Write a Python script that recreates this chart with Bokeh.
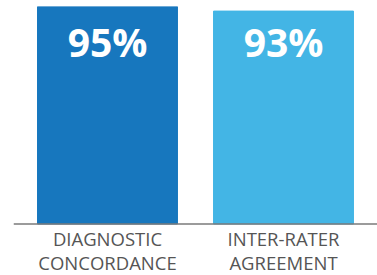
from bokeh.plotting import figure
from bokeh.models import ColumnDataSource, FactorRange, Range1d, Span
from bokeh.core.properties import value
from bokeh.embed import file_html
from bokeh.resources import INLINE

categories = ["DIAGNOSTIC\nCONCORDANCE", "INTER-RATER\nAGREEMENT"]
values = [95, 93]
value_labels = ["95%", "93%"]
colors = ["#1777BE", "#43B5E5"]

src = ColumnDataSource(dict(cat=categories, val=values, lab=value_labels, col=colors,
                            top=[max(values)] * len(values), base=[0] * len(values)))

p = figure(x_range=FactorRange(*categories, range_padding=0.034),
           y_range=Range1d(-22.5, max(values)),
           width=377, height=275, output_backend="svg", toolbar_location=None,
           min_border_left=13, min_border_right=0, min_border_top=6, min_border_bottom=0,
           outline_line_color=None, background_fill_color="white", border_fill_color="white")
p.x_range.range_padding_units = "percent"

p.vbar(x="cat", top="val", bottom=0, width=0.795, color="col", source=src)
p.text(x="cat", y="top", text="lab", source=src, y_offset=35,
       text_align="center", text_baseline="alphabetic",
       text_font=value("Open Sans"), text_font_style="bold", text_font_size="39px",
       text_color="white")
p.text(x="cat", y="base", text="cat", source=src, y_offset=2.5,
       text_align="center", text_baseline="top",
       text_font=value("Open Sans"), text_font_size="18.5px",
       text_color="#555555", text_line_height=0.95)

p.add_layout(Span(location=0, dimension="width", line_color="#7a7a7a", line_width=1.5))

p.xgrid.visible = False
p.ygrid.visible = False
p.xaxis.visible = False
p.yaxis.visible = False

open("out.html", "w").write(file_html(p, INLINE))
